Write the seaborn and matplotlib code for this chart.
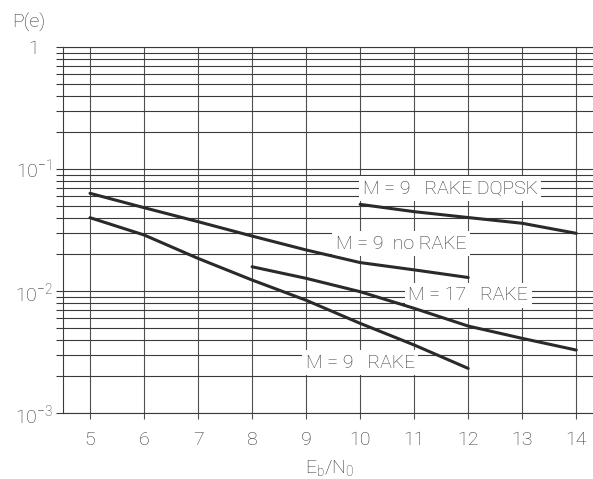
import numpy as np
import pandas as pd
import matplotlib
matplotlib.use("Agg")
import matplotlib.pyplot as plt
import seaborn as sns

# Bit error probability vs Eb/N0 for the different receiver configurations
ebn0_dqpsk = [10, 11, 12, 13, 14]
pe_dqpsk = [0.0513, 0.0447, 0.0400, 0.0359, 0.0297]

ebn0_norake = [5, 6, 7, 8, 9, 10, 11, 12]
pe_norake = [0.0632, 0.0482, 0.0370, 0.0282, 0.0217, 0.0171, 0.0149, 0.0129]

ebn0_m17 = [8, 9, 10, 11, 12, 13, 14]
pe_m17 = [0.0158, 0.0127, 0.00987, 0.00721, 0.00516, 0.00409, 0.00328]

ebn0_rake = [5, 6, 7, 8, 9, 10, 11, 12]
pe_rake = [0.0399, 0.0288, 0.0185, 0.0123, 0.0084, 0.00543, 0.00361, 0.00232]

series_labels = ["M = 9   RAKE DQPSK", "M = 9  no RAKE", "M = 17   RAKE", "M = 9   RAKE"]
label_pos = [(11.67, 0.0686), (10.76, 0.0243), (12.0, 0.00927), (10.0, 0.00258)]

x_ticks = [5, 6, 7, 8, 9, 10, 11, 12, 13, 14]
y_ticks = [1e-3, 1e-2, 1e-1, 1]
y_tick_labels = [r"$\mathregular{10^{-3}}$", r"$\mathregular{10^{-2}}$",
                 r"$\mathregular{10^{-1}}$", "1"]

sns.set_style("white")
plt.rcParams["font.family"] = ["Roboto", "DejaVu Sans"]
plt.rcParams["font.weight"] = "light"
plt.rcParams["mathtext.fontset"] = "custom"
plt.rcParams["mathtext.rm"] = "Roboto:light"
plt.rcParams["mathtext.it"] = "Roboto:light"
plt.rcParams["mathtext.bf"] = "Roboto"

grid_c = "#3a3a3a"
text_c = "#333333"

frames = []
for name, xs, ys in zip(series_labels,
                        [ebn0_dqpsk, ebn0_norake, ebn0_m17, ebn0_rake],
                        [pe_dqpsk, pe_norake, pe_m17, pe_rake]):
    frames.append(pd.DataFrame({"ebn0": xs, "pe": ys, "curve": name}))
df = pd.concat(frames, ignore_index=True)

fig = plt.figure(figsize=(5.93, 4.79), dpi=100)
ax_w = 1 - 63 / 593
ax = fig.add_axes([63 / 593, 1 - 413 / 479, ax_w, (413 - 47) / 479])

for name in series_labels:
    sub = df[df["curve"] == name]
    sns.lineplot(data=sub, x="ebn0", y="pe", ax=ax, color="#2a2a2a",
                 linewidth=2.2, estimator=None, legend=False, zorder=4)

ax.set_yscale("log")
ax.set_xlim(4.5, 14.31)
ax.set_ylim(1e-3, 1)

ax.set_xticks(x_ticks)
ax.set_xticklabels([str(v) for v in x_ticks])
ax.set_yticks(y_ticks)
ax.set_yticklabels([""] * len(y_ticks))
ax.yaxis.set_minor_locator(matplotlib.ticker.LogLocator(base=10, subs=np.arange(2, 10)))
ax.yaxis.set_minor_formatter(matplotlib.ticker.NullFormatter())

ax.set_axisbelow(True)
ax.grid(True, which="both", axis="y", color=grid_c, linewidth=0.8)
ax.grid(True, which="major", axis="x", color="#505050", linewidth=0.8)

ax.tick_params(axis="y", which="both", direction="out", length=5, width=0.8,
               color=grid_c, left=True)
ax.tick_params(axis="x", which="major", direction="out", length=4, width=0.8,
               color="#505050", bottom=True, pad=9, labelsize=14, labelcolor=text_c)

# y tick labels centred in the left margin
label_x = (34 - 63) / (593 * ax_w)
for val, lab in zip(y_ticks, y_tick_labels):
    ax.text(label_x, val, lab, transform=ax.get_yaxis_transform(),
            ha="center", va="center_baseline", fontsize=14, color=text_c,
            clip_on=False)

for side in ["left", "bottom", "top"]:
    ax.spines[side].set_color(grid_c)
    ax.spines[side].set_linewidth(0.8)
ax.spines["right"].set_visible(False)

ax.set_xlabel("")
ax.set_ylabel("")

for text, (tx, ty) in zip(series_labels, label_pos):
    ax.text(tx, ty, text, ha="center", va="center", fontsize=14,
            color=text_c, zorder=3,
            bbox=dict(facecolor="white", edgecolor="none", pad=2.5))

fig.text(12 / 593, 1 - 28 / 479, "P(e)", ha="left", va="baseline",
         fontsize=14, color=text_c)
fig.text(330 / 593, 1 - 473 / 479, r"$\mathregular{E_b/N_0}$", ha="center",
         va="baseline", fontsize=14, color=text_c)

fig.savefig("out.png", dpi=100, facecolor="white")
